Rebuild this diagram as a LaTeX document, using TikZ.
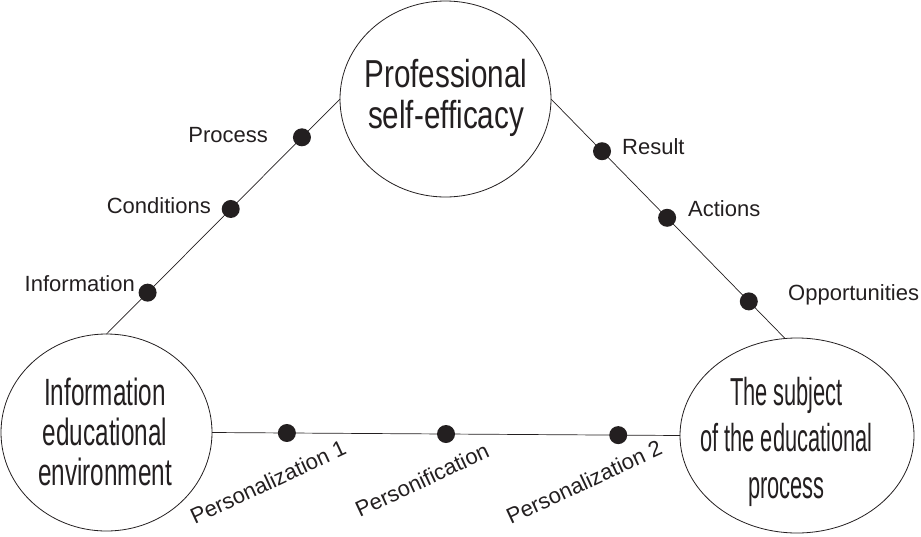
\documentclass[tikz,border=0pt]{standalone}
\usepackage{fontspec}
\setmainfont{Liberation Sans}
\newfontfamily\fTop[FakeStretch=0.76]{Liberation Sans}
\newfontfamily\fLeft[FakeStretch=0.64]{Liberation Sans}
\newfontfamily\fRight[FakeStretch=0.56]{Liberation Sans}
\usetikzlibrary{shapes.geometric}
\definecolor{ink}{HTML}{231F20}
\begin{document}
\begin{tikzpicture}[x=1pt,y=-1pt,
  bubble/.style={ellipse, draw=ink, line width=0.8pt, inner sep=0pt, outer sep=0pt},
  bigtext/.style={text=ink, align=center, inner sep=0pt},
  link/.style={draw=ink, line width=0.7pt},
  dot/.style={circle, fill=ink, minimum size=18pt, inner sep=0pt},
  lbl/.style={text=ink, font=\fontsize{22}{26}\selectfont, inner sep=0pt},
]
\useasboundingbox (0,0) rectangle (921,536);
% circles
\node[bubble, minimum width=211pt, minimum height=196pt] (top) at (445.5,99) {};
\node[bubble, minimum width=211pt, minimum height=197pt] (left) at (106.5,432.5) {};
\node[bubble, minimum width=234pt, minimum height=195pt] (right) at (797,435.5) {};
% texts in circles
\node[bigtext, font=\fontsize{39}{41}\selectfont\fTop] (toptext) at (446,97.5) {Professional\\self-efficacy};
\node[bigtext, font=\fontsize{38}{40}\selectfont\fLeft] (lefttext) at (105,431.5) {Information\\educational\\environment};
\node[bigtext, font=\fontsize{39}{46.5}\selectfont\fRight] (righttext) at (786.5,441.5) {The subject\\of the educational\\process};
% connectors with dots
\draw[link] (top.west) -- (left.north)
  node[dot, pos=0.163] (dProcess) {}
  node[dot, pos=0.468] (dConditions) {}
  node[dot, pos=0.824] (dInformation) {};
\draw[link] (top.east) -- (right.97)
  node[dot, pos=0.218] (dResult) {}
  node[dot, pos=0.496] (dActions) {}
  node[dot, pos=0.845] (dOpportunities) {};
\draw[link] (left.east) -- (right.west)
  node[dot, pos=0.160] (dPers1) {}
  node[dot, pos=0.500] (dPersonif) {}
  node[dot, pos=0.868] (dPers2) {};
% labels
\node[lbl, anchor=base east] (lProcess) at (268,142) {Process};
\node[lbl, anchor=base east] (lConditions) at (211,213) {Conditions};
\node[lbl, anchor=base east] (lInformation) at (135,291) {Information};
\node[lbl, anchor=base west] (lResult) at (622,154) {Result};
\node[lbl, anchor=base west] (lActions) at (688,216) {Actions};
\node[lbl, anchor=base west] (lOpportunities) at (788,300) {Opportunities};
\node[lbl, rotate=25] (lPers1) at (268,482) {Personalization 1};
\node[lbl, rotate=25] (lPersonif) at (422,480) {Personification};
\node[lbl, rotate=25] (lPers2) at (584,482) {Personalization 2};
\end{tikzpicture}
\end{document}
